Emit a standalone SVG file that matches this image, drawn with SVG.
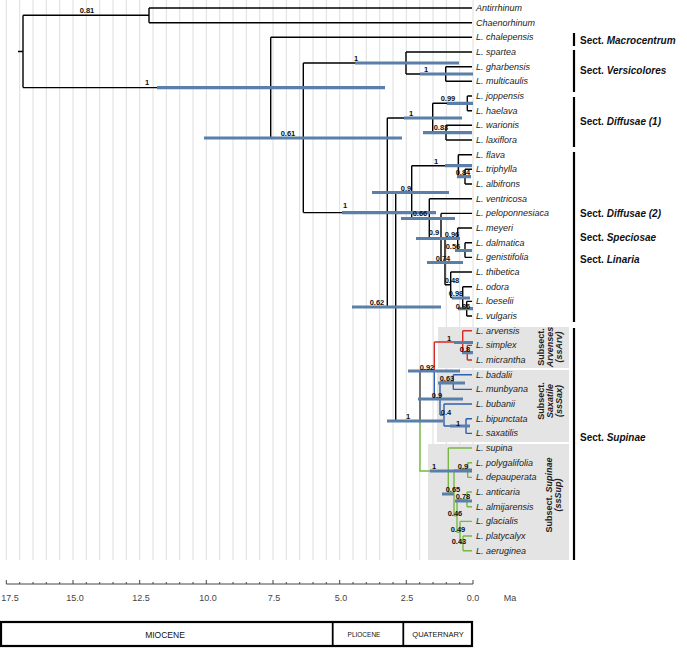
<svg xmlns="http://www.w3.org/2000/svg" width="687" height="650" viewBox="0 0 687 650">
<style>
.grid{stroke:#dedede;stroke-width:1;fill:none}
.br{stroke:#000;stroke-width:1.4;fill:none}
.dg{stroke:#444;stroke-width:1.4;fill:none}
.red{stroke:#d42a2a;stroke-width:1.4;fill:none}
.blu{stroke:#2f5faf;stroke-width:1.4;fill:none}
.grn{stroke:#77b843;stroke-width:1.4;fill:none}
.bar{stroke:#5a7fa8;stroke-width:3.2;fill:none}
.leaf{font-family:"Liberation Sans",Arial,sans-serif;font-size:9px;font-style:italic;fill:#222}
.pp{font-family:"Liberation Sans",Arial,sans-serif;font-size:7.5px;font-weight:bold;fill:#111;text-anchor:middle}
.sec{font-family:"Liberation Sans",Arial,sans-serif;font-size:10px;font-weight:bold;fill:#111}
.sub{font-family:"Liberation Sans",Arial,sans-serif;font-size:9px;font-weight:bold;fill:#222;text-anchor:middle}
.ax{font-family:"Liberation Sans",Arial,sans-serif;font-size:9px;fill:#444;text-anchor:middle}
.ep{font-family:"Liberation Sans",Arial,sans-serif;fill:#111;text-anchor:middle}
.box{fill:#e4e4e4}
.sbar{stroke:#000;stroke-width:2.2}
</style>
<rect width="687" height="650" fill="#fff"/>
<g id="grid">
<path class="grid" d="M473,0V560M459.7,0V560M446.3,0V560M433,0V560M419.7,0V560M406.3,0V560M393,0V560M379.7,0V560M366.3,0V560M353,0V560M339.7,0V560M326.3,0V560M313,0V560M299.7,0V560M286.3,0V560M273,0V560M259.7,0V560M246.3,0V560M233,0V560M219.7,0V560M206.3,0V560M193,0V560M179.7,0V560M166.3,0V560M153,0V560M139.7,0V560M126.3,0V560M113,0V560M99.7,0V560M86.3,0V560M73,0V560M59.7,0V560M46.3,0V560M33,0V560M19.7,0V560M6.3,0V560"/>
</g>
<g id="subsection-boxes">
<rect class="box" x="438" y="327" width="131" height="41"/>
<rect class="box" x="437" y="370" width="132" height="72"/>
<rect class="box" x="428" y="444" width="141" height="116"/>
</g>
<g id="connectors">
<path class="br" d="M18,51.5H23M23,15.3V87.6M23,15.3H149M23,87.6H270.7
M149,8V22.7M149,8H472M149,22.7H472
M270.7,37.3V138M270.7,37.3H472M270.7,138H303.3
M303.3,63V212.6M303.3,63H406M303.3,212.6H387.3
M406,52V74M406,52H472M406,74H445.7
M445.7,66.7V81.3M445.7,66.7H472M445.7,81.3H472
M387.3,118V307M387.3,118H432.7M387.3,307H395.7
M432.7,103.3V132.7M432.7,103.3H467.3M432.7,132.7H446
M467.3,96V110.7M467.3,96H472M467.3,110.7H472
M446,125.3V140M446,125.3H472M446,140H472
M395.7,192V421M395.7,192H411.7M395.7,421H420
M411.7,165.7V218.2M411.7,165.7H458.3M411.7,218.2H429.3
M458.3,154.7V176.7M458.3,154.7H472M458.3,176.7H465
M465,169.3V184M465,169.3H472M465,184H472
M429.3,198.7V237.7M429.3,198.7H472M429.3,237.7H441
M441,213.4V262M441,213.4H472M441,262H445
M445,239.2V284.8M445,239.2H457.7M445,284.8H450.7
M457.7,228V250M457.7,228H472M457.7,250H465
M465,242.7V257.4M465,242.7H472M465,257.4H472
M450.7,272V297.6M450.7,272H472M450.7,297.6H462.7
M462.7,286.7V308.7M462.7,286.7H472M462.7,308.7H466.7
M466.7,301.4V316M466.7,301.4H472M466.7,316H472"/>
<path class="dg" d="M420,370V421M420,370H434.3"/>
<path class="red" d="M434.3,342V370M434.3,342H462.7M462.7,330.7V352.7M462.7,330.7H472M462.7,352.7H467.3M467.3,345.4V360M467.3,345.4H472M467.3,360H472"/>
<path class="blu" d="M434.3,370V398.5M434.3,398.5H440M440,382V415M440,382H453.3M453.3,374.7V389.4M453.3,374.7H472M453.3,389.4H472M440,415H444M444,404V426M444,404H472M444,426H466M466,418.7V433.4M466,418.7H472M466,433.4H472"/>
<path class="grn" d="M420,421V471H448.3M448.3,448V493M448.3,448H472M448.3,493H454M454,470V515.9M454,470H467.7M467.7,462.8V477.4M467.7,462.8H472M467.7,477.4H472
M454,515.9H457M457,499.4V532.4M457,499.4H467M467,492V506.8M467,492H472M467,506.8H472M457,532.4H460M460,521.4V543.4M460,521.4H472M460,543.4H463M463,536V550.8M463,536H472M463,550.8H472"/>
</g>
<g id="error-bars">
<path class="bar" d="M157,87.6H385M204,138H402M355,63H459M420,74H473M404,118H462M447,103.3H473M423,132.7H472M342,212.6H436M372,192.5H449M445,165.7H472M457,176.7H471M401,218.5H455M416,238.5H460M455,250.5H472M427,262.5H463M452,298H470M458,308.7H473M352,307H441M387,421H443M408,371H460M454,342.5H473M462,352.7H473M438,383H465M418,399H463M450,426H470M430,471H472M460,470H472M442,494H454M455,501H472"/>
</g>
<g id="support-values">
<text class="pp" x="87" y="13">0.81</text>
<text class="pp" x="147" y="85">1</text>
<text class="pp" x="288" y="135.5">0.61</text>
<text class="pp" x="356" y="61">1</text>
<text class="pp" x="426" y="72">1</text>
<text class="pp" x="411" y="116">1</text>
<text class="pp" x="448" y="101">0.99</text>
<text class="pp" x="441" y="130">0.83</text>
<text class="pp" x="345" y="208">1</text>
<text class="pp" x="406" y="190.5">0.9</text>
<text class="pp" x="436" y="164">1</text>
<text class="pp" x="463" y="174.5">0.84</text>
<text class="pp" x="420" y="216">0.66</text>
<text class="pp" x="434" y="235">0.9</text>
<text class="pp" x="452" y="237">0.96</text>
<text class="pp" x="453" y="248.5">0.56</text>
<text class="pp" x="443" y="260.5">0.74</text>
<text class="pp" x="452" y="283">0.48</text>
<text class="pp" x="456" y="296">0.98</text>
<text class="pp" x="463" y="308.5">0.86</text>
<text class="pp" x="377" y="305">0.62</text>
<text class="pp" x="449" y="341">1</text>
<text class="pp" x="465" y="352">0.8</text>
<text class="pp" x="427" y="369.5">0.92</text>
<text class="pp" x="447" y="381">0.63</text>
<text class="pp" x="437" y="398">0.9</text>
<text class="pp" x="446" y="414.5">0.4</text>
<text class="pp" x="458" y="426">1</text>
<text class="pp" x="408" y="419">1</text>
<text class="pp" x="434" y="469">1</text>
<text class="pp" x="463" y="469">0.9</text>
<text class="pp" x="453" y="492">0.65</text>
<text class="pp" x="463" y="499">0.78</text>
<text class="pp" x="455" y="516">0.46</text>
<text class="pp" x="458" y="532">0.49</text>
<text class="pp" x="459" y="544">0.43</text>
</g>
<g id="taxa">
<text class="leaf" x="476" y="11">Antirrhinum</text>
<text class="leaf" x="476" y="25.7">Chaenorhinum</text>
<text class="leaf" x="476" y="40.3">L. chalepensis</text>
<text class="leaf" x="476" y="55">L. spartea</text>
<text class="leaf" x="476" y="69.7">L. gharbensis</text>
<text class="leaf" x="476" y="84.3">L. multicaulis</text>
<text class="leaf" x="476" y="99">L. joppensis</text>
<text class="leaf" x="476" y="113.7">L. haelava</text>
<text class="leaf" x="476" y="128.3">L. warionis</text>
<text class="leaf" x="476" y="143">L. laxiflora</text>
<text class="leaf" x="476" y="157.7">L. flava</text>
<text class="leaf" x="476" y="172.3">L. triphylla</text>
<text class="leaf" x="476" y="187">L. albifrons</text>
<text class="leaf" x="476" y="201.7">L. ventricosa</text>
<text class="leaf" x="476" y="216.4">L. peloponnesiaca</text>
<text class="leaf" x="476" y="231">L. meyeri</text>
<text class="leaf" x="476" y="245.7">L. dalmatica</text>
<text class="leaf" x="476" y="260.4">L. genistifolia</text>
<text class="leaf" x="476" y="275">L. thibetica</text>
<text class="leaf" x="476" y="289.7">L. odora</text>
<text class="leaf" x="476" y="304.4">L. loeselii</text>
<text class="leaf" x="476" y="319">L. vulgaris</text>
<text class="leaf" x="476" y="333.7">L. arvensis</text>
<text class="leaf" x="476" y="348.4">L. simplex</text>
<text class="leaf" x="476" y="363">L. micrantha</text>
<text class="leaf" x="476" y="377.7">L. badalii</text>
<text class="leaf" x="476" y="392.4">L. munbyana</text>
<text class="leaf" x="476" y="407">L. bubanii</text>
<text class="leaf" x="476" y="421.7">L. bipunctata</text>
<text class="leaf" x="476" y="436.4">L. saxatilis</text>
<text class="leaf" x="476" y="451">L. supina</text>
<text class="leaf" x="476" y="465.8">L. polygalifolia</text>
<text class="leaf" x="476" y="480.4">L. depauperata</text>
<text class="leaf" x="476" y="495">L. anticaria</text>
<text class="leaf" x="476" y="509.8">L. almijarensis</text>
<text class="leaf" x="476" y="524.4">L. glacialis</text>
<text class="leaf" x="476" y="539">L. platycalyx</text>
<text class="leaf" x="476" y="553.8">L. aeruginea</text>
</g>
<g id="sections">
<g id="sect-macrocentrum"><line class="sbar" x1="574" y1="33" x2="574" y2="46"/><text class="sec" x="580" y="43.5">Sect. <tspan font-style="italic">Macrocentrum</tspan></text></g>
<g id="sect-versicolores"><line class="sbar" x1="574" y1="50" x2="574" y2="92"/><text class="sec" x="580" y="74">Sect. <tspan font-style="italic">Versicolores</tspan></text></g>
<g id="sect-diffusae1"><line class="sbar" x1="574" y1="97" x2="574" y2="147"/><text class="sec" x="580" y="125">Sect. <tspan font-style="italic">Diffusae (1)</tspan></text></g>
<g id="sect-diffusae2"><line class="sbar" x1="574" y1="152" x2="574" y2="322"/><text class="sec" x="580" y="216.5">Sect. <tspan font-style="italic">Diffusae (2)</tspan></text><text class="sec" x="580" y="240.5">Sect. <tspan font-style="italic">Speciosae</tspan></text><text class="sec" x="580" y="262.5">Sect. <tspan font-style="italic">Linaria</tspan></text></g>
<g id="sect-supinae"><line class="sbar" x1="574" y1="328" x2="574" y2="560"/><text class="sec" x="580" y="440.5">Sect. <tspan font-style="italic">Supinae</tspan></text></g>
<g id="subsect-arvenses" transform="translate(549,347) rotate(-90)"><text class="sub" x="0" y="-5">Subsect.</text><text class="sub" x="0" y="4" font-style="italic">Arvenses</text><text class="sub" x="0" y="13" font-style="italic" font-weight="normal">(ssArv)</text></g>
<g id="subsect-saxatile" transform="translate(549,401) rotate(-90)"><text class="sub" x="0" y="-5">Subsect.</text><text class="sub" x="0" y="4" font-style="italic">Saxatile</text><text class="sub" x="0" y="13" font-style="italic" font-weight="normal">(ssSax)</text></g>
<g id="subsect-supinae" transform="translate(552,495) rotate(-90)"><text class="sub" x="0" y="0">Subsect. <tspan font-style="italic">Supinae</tspan></text><text class="sub" x="0" y="9" font-style="italic" font-weight="normal">(ssSup)</text></g>
</g>
<g id="axis">
<path stroke="#444" stroke-width="1" fill="none" d="M6.3,584H473M6.3,580V584M19.7,582V584M33,582V584M46.3,582V584M59.7,582V584M73,580V584M86.3,582V584M99.7,582V584M113,582V584M126.3,582V584M139.7,580V584M153,582V584M166.3,582V584M179.7,582V584M193,582V584M206.3,580V584M219.7,582V584M233,582V584M246.3,582V584M259.7,582V584M273,580V584M286.3,582V584M299.7,582V584M313,582V584M326.3,582V584M339.7,580V584M353,582V584M366.3,582V584M379.7,582V584M393,582V584M406.3,580V584M419.7,582V584M433,582V584M446.3,582V584M459.7,582V584M473,580V584"/>
<text class="ax" x="10" y="601">17.5</text>
<text class="ax" x="75" y="601">15.0</text>
<text class="ax" x="141" y="601">12.5</text>
<text class="ax" x="208" y="601">10.0</text>
<text class="ax" x="274" y="601">7.5</text>
<text class="ax" x="341" y="601">5.0</text>
<text class="ax" x="407" y="601">2.5</text>
<text class="ax" x="473" y="601">0.0</text>
<text class="ax" x="510" y="601">Ma</text>
</g>
<g id="epochs">
<rect x="1" y="622" width="471" height="24" fill="none" stroke="#000" stroke-width="2.2"/>
<line x1="332.7" y1="622" x2="332.7" y2="646" stroke="#000" stroke-width="1.8"/>
<line x1="403.3" y1="622" x2="403.3" y2="646" stroke="#000" stroke-width="1.8"/>
<text class="ep" x="165" y="637.5" font-size="8.5">MIOCENE</text>
<text class="ep" x="364" y="637" font-size="6.5">PLIOCENE</text>
<text class="ep" x="438" y="637" font-size="7.5">QUATERNARY</text>
</g>
</svg>
